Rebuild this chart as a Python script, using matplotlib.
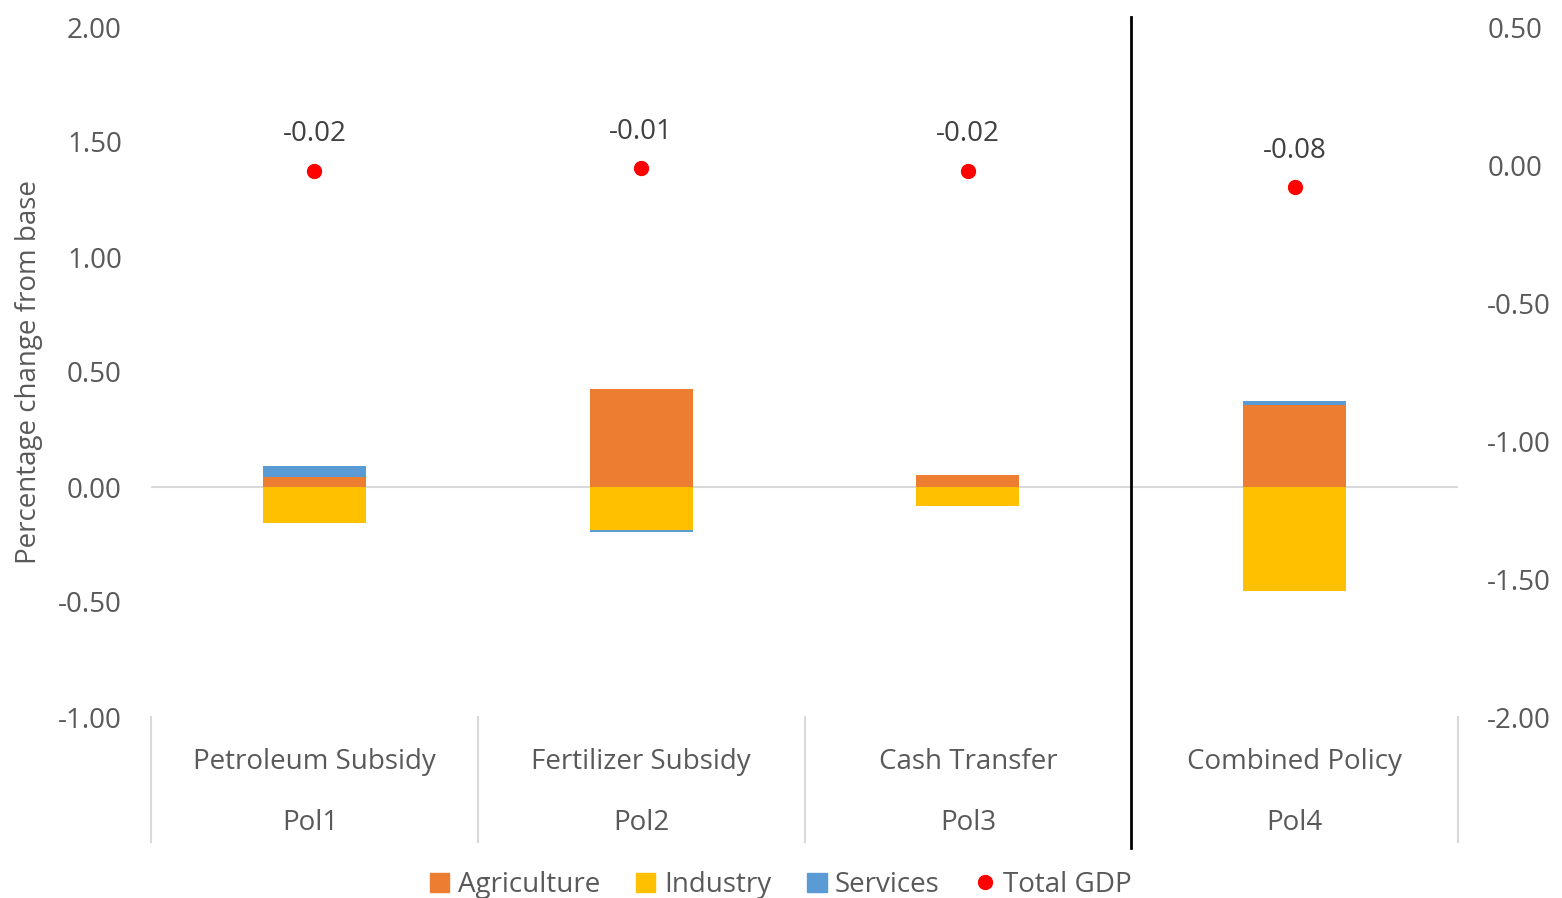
import matplotlib
matplotlib.use("Agg")
import matplotlib.pyplot as plt
import matplotlib.transforms as mtransforms
from matplotlib.lines import Line2D
from matplotlib.patches import Patch
import numpy as np

plt.rcParams['font.family'] = ['Open Sans', 'DejaVu Sans']
plt.rcParams['axes.unicode_minus'] = False

# data
policies = ['Petroleum Subsidy', 'Fertilizer Subsidy', 'Cash Transfer', 'Combined Policy']
codes = ['Pol1', 'Pol2', 'Pol3', 'Pol4']
agriculture = [0.045, 0.426, 0.052, 0.355]
industry = [-0.155, -0.187, -0.083, -0.450]
services = [0.045, -0.010, 0.0, 0.018]
total_gdp = [-0.02, -0.01, -0.02, -0.08]

c_agri = '#ED7D31'
c_ind = '#FFC000'
c_serv = '#5B9BD5'
c_gdp = '#FF0000'
tick_col = '#595959'
grid_col = '#D9D9D9'
fs = 20

fig = plt.figure(figsize=(15.62, 8.98), dpi=100)
ax = fig.add_axes([151 / 1562, 181 / 898, 1307 / 1562, 690 / 898])

x = np.arange(len(policies)) + 0.5
w = 0.315

agri = np.array(agriculture)
ind = np.array(industry)
serv = np.array(services)

# stack positives above zero and negatives below, like Excel does
pos_base = np.zeros(len(x))
neg_base = np.zeros(len(x))
for vals, col in [(agri, c_agri), (ind, c_ind), (serv, c_serv)]:
    bottoms = np.where(vals >= 0, pos_base, neg_base)
    ax.bar(x, vals, w, bottom=bottoms, color=col, edgecolor='none', zorder=3)
    pos_base = pos_base + np.where(vals >= 0, vals, 0)
    neg_base = neg_base + np.where(vals < 0, vals, 0)

ax.axhline(0, color=grid_col, lw=1.5, zorder=2)
ax.set_xlim(0, 4)
ax.set_ylim(-1.0, 2.0)
ax.set_yticks(np.arange(-1.0, 2.01, 0.5))
ax.set_yticklabels([f'{v:.2f}' for v in np.arange(-1.0, 2.01, 0.5)])
ax.tick_params(axis='y', length=0, pad=21, labelsize=fs, labelcolor=tick_col)
ax.set_xticks([])
for s in ax.spines.values():
    s.set_visible(False)
ax.set_ylabel('Percentage change from base', fontsize=fs, color=tick_col, labelpad=11)

# right axis for total GDP
ax2 = ax.twinx()
ax2.set_ylim(-2.0, 0.5)
ax2.set_yticks(np.arange(-2.0, 0.51, 0.5))
ax2.set_yticklabels([f'{v:.2f}' for v in np.arange(-2.0, 0.51, 0.5)])
ax2.tick_params(axis='y', length=0, pad=21, labelsize=fs, labelcolor=tick_col)
for s in ax2.spines.values():
    s.set_visible(False)
ax2.plot(x, total_gdp, 'o', color=c_gdp, markersize=10, zorder=5)
for xi, v in zip(x, total_gdp):
    ax2.annotate(f'{v:.2f}', (xi, v), xytext=(0, 16), textcoords='offset points',
                 ha='center', va='bottom', fontsize=fs, color='#404040')

# multi-level category axis
trans = mtransforms.blended_transform_factory(ax.transData, ax.transAxes)
for i in range(len(policies) + 1):
    if i == 3:
        continue
    ax.plot([i, i], [0, -0.181], color=grid_col, lw=1.5, transform=trans, clip_on=False)
ax.plot([3, 3], [1.0145, -0.19], color='black', lw=2, transform=trans, clip_on=False, zorder=6)
for xi, name, code in zip(x, policies, codes):
    ax.text(xi, -0.065, name, transform=trans, ha='center', va='center', fontsize=fs, color=tick_col)
    ax.text(xi - (0.012 if code == 'Pol1' else 0), -0.153, code, transform=trans,
            ha='center', va='center', fontsize=fs, color=tick_col)

handles = [Patch(color=c_agri), Patch(color=c_ind), Patch(color=c_serv),
           Line2D([], [], marker='o', color=c_gdp, linestyle='none', markersize=10)]
fig.legend(handles, ['Agriculture', 'Industry', 'Services', 'Total GDP'],
           loc='center', bbox_to_anchor=(0.5, 1 - 885 / 898), ncol=4, frameon=False,
           fontsize=fs, labelcolor=tick_col, handlelength=0.7, handleheight=0.7,
           handletextpad=0.3, columnspacing=1.3, borderpad=0)

fig.savefig('out.png', dpi=100)
